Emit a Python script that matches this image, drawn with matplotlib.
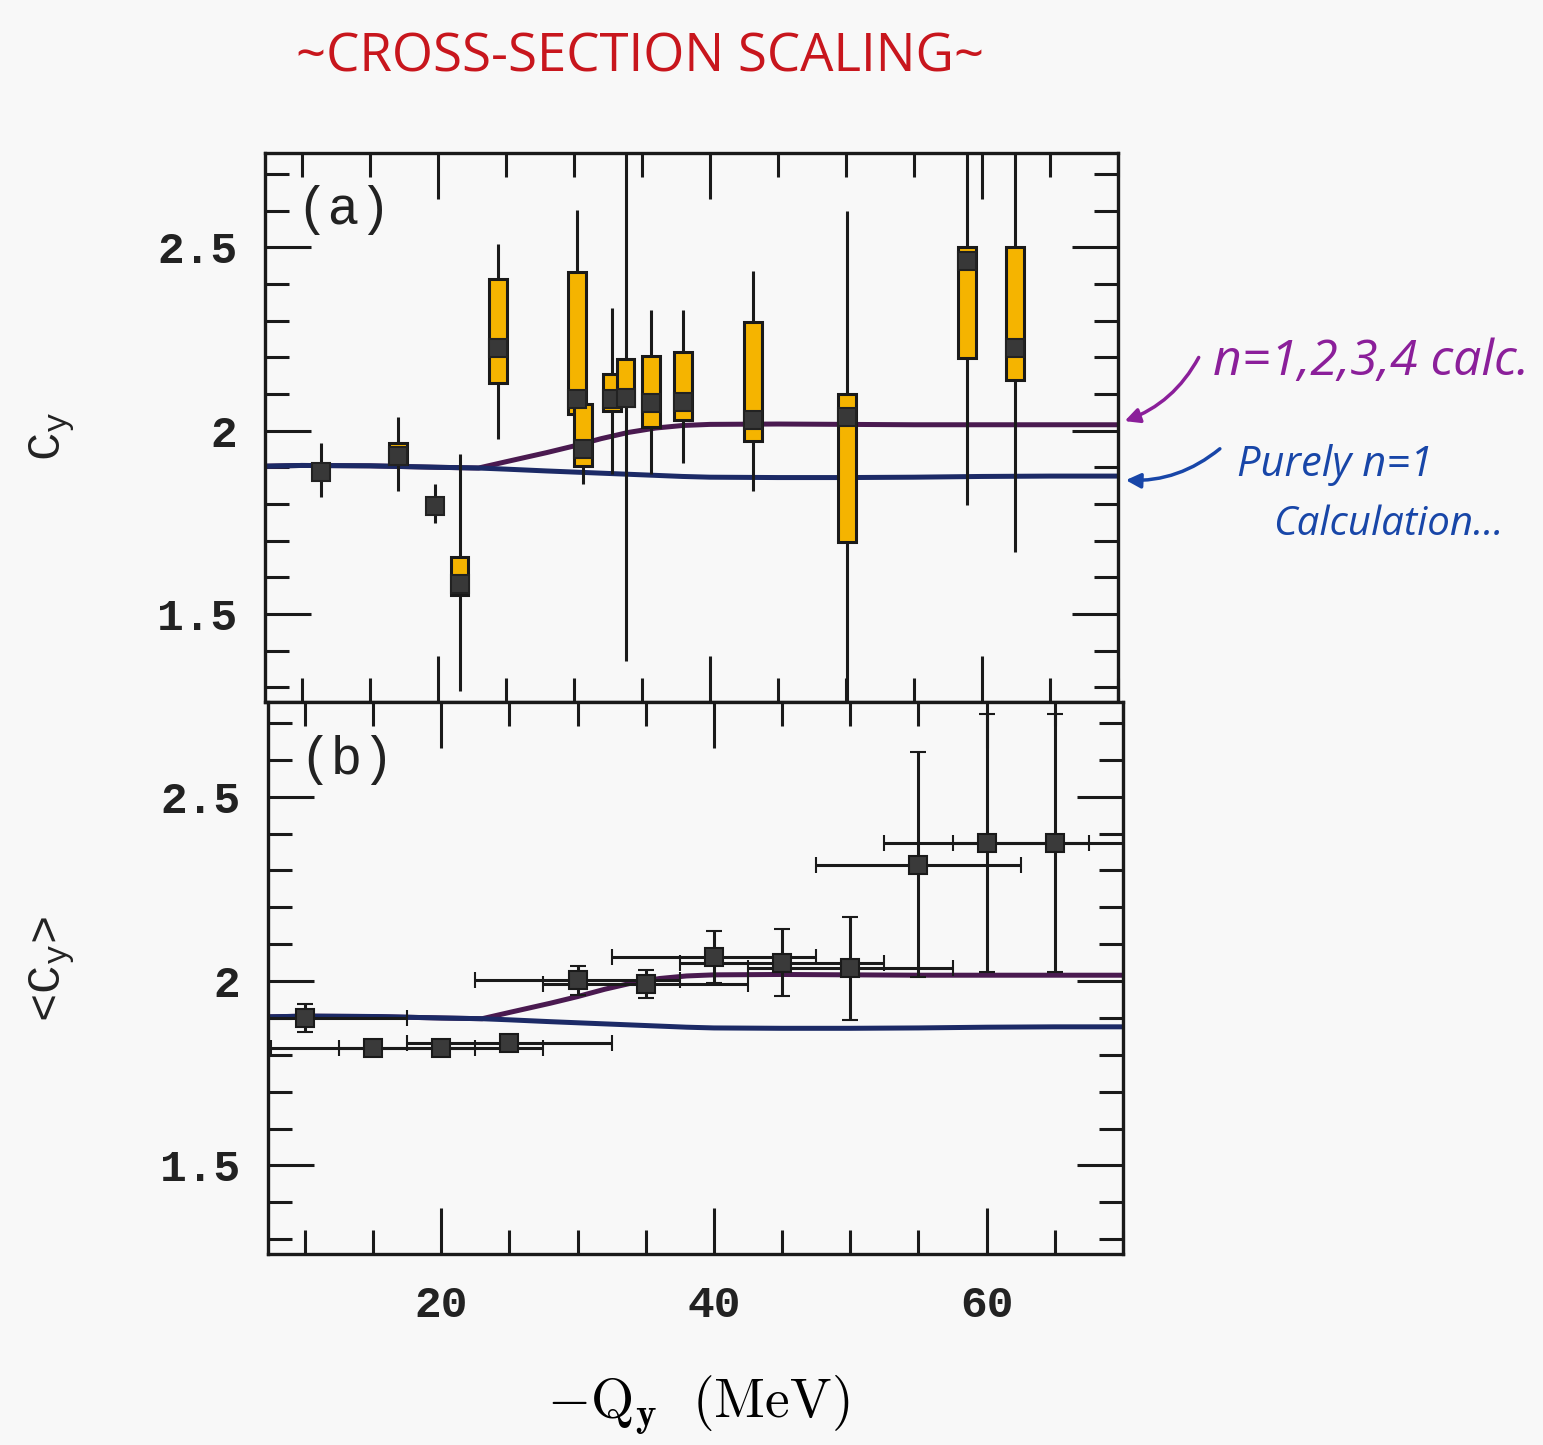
import numpy as np
import matplotlib
matplotlib.use("Agg")
import matplotlib.pyplot as plt
from matplotlib.ticker import MultipleLocator, FixedLocator

# ---------------- data ----------------
# panel (a): individual measurements
xa = [11.4, 17.1, 19.8, 21.6, 24.4, 30.2, 30.7, 32.8, 33.8, 35.7, 38.0, 43.2, 50.1, 58.9, 62.4]
ya = [1.888, 1.930, 1.794, 1.583, 2.224, 2.085, 1.949, 2.087, 2.090, 2.075, 2.077, 2.030, 2.036, 2.463, 2.226]
box_lo = [np.nan, 1.908, np.nan, 1.553, 2.131, 2.044, 1.903, 2.053, 2.068, 2.010, 2.029, 1.973, 1.695, 2.197, 2.139]
box_hi = [np.nan, 1.966, np.nan, 1.655, 2.413, 2.432, 2.073, 2.155, 2.194, 2.204, 2.214, 2.295, 2.100, 2.500, 2.500]
err_lo = [1.820, 1.835, 1.748, 1.291, 1.976, 1.950, 1.854, 1.883, 1.373, 1.883, 1.913, 1.836, 1.260, 1.797, 1.670]
err_hi = [1.966, 2.036, 1.854, 1.937, 2.510, 2.602, 2.070, 2.335, 2.760, 2.330, 2.330, 2.436, 2.600, 2.760, 2.760]

# panel (b): averaged values
xb = [10, 15, 20, 25, 30, 35, 40, 45, 50, 55, 60, 65]
yb = [1.901, 1.818, 1.818, 1.831, 2.002, 1.992, 2.065, 2.050, 2.035, 2.315, 2.375, 2.375]
yerr_b = [0.038, 0.0, 0.0, 0.0, 0.040, 0.037, 0.070, 0.090, 0.140, 0.305, 0.350, 0.350]
xerr_b = [7.5] * 12

# calculations
xc = [7.3, 10, 15, 20, 23, 25, 28, 30, 32, 34, 36, 38, 40, 45, 50, 55, 60, 65, 70]
calc_n1234 = [1.903, 1.905, 1.904, 1.900, 1.898, 1.915, 1.940, 1.958, 1.978, 1.995, 2.007,
              2.014, 2.017, 2.018, 2.017, 2.016, 2.016, 2.016, 2.016]
calc_n1 = [1.903, 1.905, 1.904, 1.900, 1.898, 1.895, 1.890, 1.887, 1.884, 1.881, 1.878,
           1.875, 1.873, 1.872, 1.872, 1.873, 1.875, 1.876, 1.876]

x_major = [20, 40, 60]
x_labels = ["20", "40", "60"]

# ---------------- style ----------------
BG = "#f8f8f8"
INK = "#1a1a1a"
PURPLE_LINE = "#4a1a50"
BLUE_LINE = "#1c2a66"
YELLOW = "#f5b400"
MONO = "Liberation Mono"
BOX_W = 1.32

plt.rcParams["font.family"] = [MONO, "DejaVu Sans"]

fig = plt.figure(figsize=(15.43, 14.45), dpi=100, facecolor=BG)
ax_a = fig.add_axes([0.1717, 0.5142, 0.5529, 0.3799])
ax_b = fig.add_axes([0.1737, 0.1322, 0.5541, 0.3820])

for ax in (ax_a, ax_b):
    ax.set_facecolor(BG)
    ax.set_xlim(7.3, 70.0)
    ax.set_ylim(1.26, 2.757)
    ax.xaxis.set_major_locator(FixedLocator(x_major))
    ax.xaxis.set_minor_locator(MultipleLocator(5))
    ax.yaxis.set_major_locator(MultipleLocator(0.5))
    ax.yaxis.set_minor_locator(MultipleLocator(0.1))
    ax.tick_params(which="both", direction="in", top=True, right=True,
                   width=2.2, color=INK)
    ax.tick_params(which="major", length=33)
    ax.tick_params(which="minor", length=17)
    ax.tick_params(axis="y", labelsize=32, pad=20)
    ax.tick_params(axis="x", labelsize=32, pad=22)
    for s in ax.spines.values():
        s.set_linewidth(2.4)
        s.set_color(INK)
    ax.set_yticks([1.5, 2.0, 2.5])
    ax.set_yticklabels(["1.5", "2", "2.5"])
    for lab in ax.get_yticklabels() + ax.get_xticklabels():
        lab.set_fontweight("bold")
        lab.set_color("#222222")
    ax.plot(xc, calc_n1234, color=PURPLE_LINE, lw=3.6, zorder=2, solid_capstyle="round")
    ax.plot(xc, calc_n1, color=BLUE_LINE, lw=3.6, zorder=2, solid_capstyle="round")

ax_a.tick_params(axis="x", labelbottom=False)
ax_b.set_xticklabels(x_labels)
for lab in ax_b.get_xticklabels():
    lab.set_fontweight("bold")
    lab.set_color("#222222")

# panel (a)
ax_a.vlines(xa, err_lo, err_hi, color=INK, lw=2.2, zorder=3)
xa_arr = np.array(xa)
lo = np.array(box_lo)
hi = np.array(box_hi)
m = ~np.isnan(lo)
ax_a.bar(xa_arr[m], hi[m] - lo[m], bottom=lo[m], width=BOX_W, color=YELLOW,
         edgecolor=INK, linewidth=2.2, zorder=4)
ax_a.plot(xa, ya, "s", ms=12.5, mfc="#383838", mec="#222222", mew=1.5, zorder=5)

# panel (b)
ax_b.errorbar(xb, yb, yerr=yerr_b, xerr=xerr_b, fmt="s", ms=13, mfc="#3a3a3a",
              mec="#1a1a1a", mew=1.5, ecolor=INK, elinewidth=2.2, capsize=6,
              capthick=2.4, zorder=4)

# labels
fig.text(0.2229, 0.8547, "(a)", fontsize=38, ha="center", va="center", family=MONO,
         color="#222222")
fig.text(0.2249, 0.4740, "(b)", fontsize=38, ha="center", va="center", family=MONO,
         color="#222222")
fig.text(0.0337, 0.6983, r"C$\mathregular{_y}$", fontsize=34, rotation=90,
         ha="center", va="center", family=MONO, color="#222222")
fig.text(0.0337, 0.3294, r"<C$\mathregular{_y}$>", fontsize=34, rotation=90,
         ha="center", va="center", family=MONO, color="#222222")
fig.text(0.4524, 0.0277, r"$-\mathrm{Q}_{\mathbf{y}}\ \ (\mathrm{MeV})$", fontsize=40,
         ha="center", va="center", math_fontfamily="cm")

# handwritten annotations
fig.text(0.4148, 0.9599, "~CROSS-SECTION SCALING~", fontsize=38, color="#c8161d",
         ha="center", va="center", family="Open Sans")
fig.text(0.7861, 0.7495, "n=1,2,3,4 calc.", fontsize=36, color="#8b1f9a",
         ha="left", va="center", family="Open Sans", style="italic")
fig.text(0.8017, 0.6782, "Purely n=1", fontsize=30, color="#1846a8",
         ha="left", va="center", family="Open Sans", style="italic")
fig.text(0.825, 0.6367, "Calculation...", fontsize=29, color="#1846a8",
         ha="left", va="center", family="Open Sans", style="italic")

fig.add_artist(matplotlib.patches.FancyArrowPatch(
    (1200 / 1543, 1 - 355 / 1445), (1122 / 1543, 1 - 422 / 1445),
    transform=fig.transFigure, arrowstyle="-|>", mutation_scale=22,
    color="#8b1f9a", lw=2.5, connectionstyle="arc3,rad=-0.2"))
fig.add_artist(matplotlib.patches.FancyArrowPatch(
    (1222 / 1543, 1 - 447 / 1445), (1123 / 1543, 1 - 480 / 1445),
    transform=fig.transFigure, arrowstyle="-|>", mutation_scale=22,
    color="#1846a8", lw=2.5, connectionstyle="arc3,rad=-0.2"))

fig.savefig("out.png", dpi=100, facecolor=BG)
